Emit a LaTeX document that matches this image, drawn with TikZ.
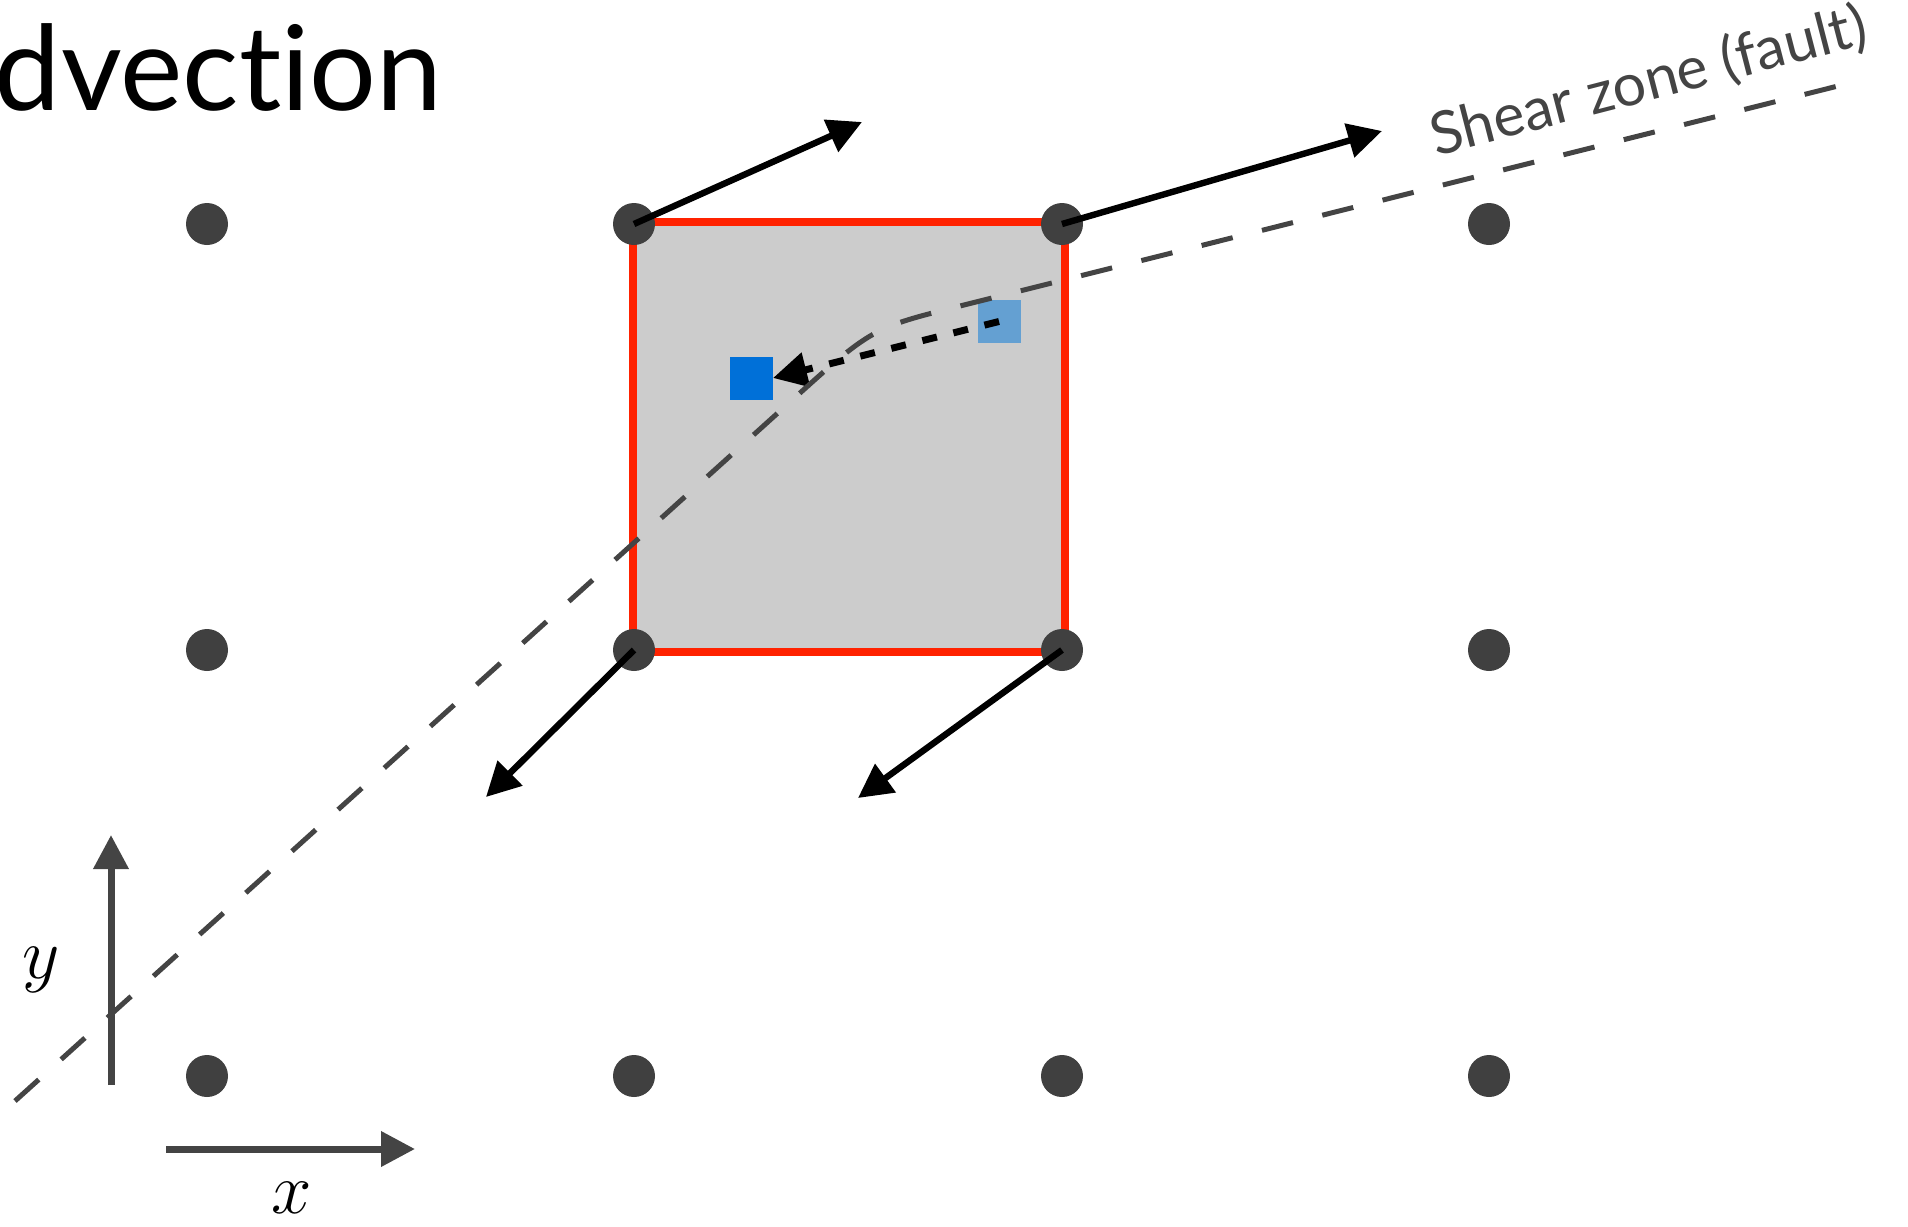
\documentclass[tikz,border=0pt]{standalone}
\usepackage{graphicx}
\usepackage{fontspec}
\setmainfont[Ligatures={NoCommon}]{Lato}
\usetikzlibrary{arrows.meta}
\definecolor{dotc}{HTML}{404040}
\definecolor{axc}{HTML}{444444}
\definecolor{redc}{HTML}{FF2200}
\definecolor{fillc}{HTML}{CCCCCC}
\definecolor{blued}{HTML}{0070D8}
\definecolor{bluel}{HTML}{64A0D2}
\begin{document}
\begin{tikzpicture}[x=0.5pt,y=-0.5pt,
  gdot/.style={circle,fill=dotc,minimum size=21pt,inner sep=0pt,outer sep=0pt},
  vel/.style={line width=3.2pt,black,-{Triangle[length=17pt,width=17pt]}},
  axis/.style={line width=3.5pt,axc,-{Triangle[length=17pt,width=17pt]}},
  shearline/.style={line width=2.5pt,axc,dash pattern=on 16pt off 15.08pt},
  cellbox/.style={draw=redc,fill=fillc,line width=4pt,inner sep=0pt,outer sep=0pt,minimum width=216pt,minimum height=215pt},
  marker/.style={inner sep=0pt,outer sep=0pt,minimum size=21.5pt},
  lbl/.style={inner sep=0pt,outer sep=0pt}]
\useasboundingbox (0,0) rectangle (1908,1227);

% title
\node[lbl,anchor=base west] (title) at (-5,110) {\fontsize{59pt}{63pt}\selectfont dvection};

% cell
\node[cellbox] (cell) at (849,437) {};

% markers
\node[marker,fill=blued] (db) at (751.5,378) {};
\node[marker,fill=bluel] (lb) at (999,321.5) {};
\draw[line width=3.5pt,black,dash pattern=on 7.5pt off 8.5pt,-{Triangle[length=17pt,width=17pt]}] (lb.center) -- (db.east);

% shear zone
\coordinate (s0) at (15,1101);
\coordinate (s1) at (790,402);
\coordinate (sc) at (872,328);
\coordinate (s2) at (960,306);
\coordinate (s3) at (1838,86);
\draw[shearline] (s0) -- (s1) .. controls (sc) .. (s2) -- (s3);
\node[lbl,anchor=base west,rotate=14.5,text=axc] (shear) at (1436,156) {\fontsize{29.5pt}{32pt}\selectfont Shear zone (fault)};

% grid dots
\foreach \c/\x in {1/207,2/634,3/1062,4/1489}{
  \foreach \r/\y in {1/224,2/650,3/1076}{
    \node[gdot] (d\r\c) at (\x,\y) {};
  }
}

% velocity arrows
\coordinate (t12) at (862,122);
\coordinate (t13) at (1382,131);
\coordinate (t22) at (486,797);
\coordinate (t23) at (858,798);
\draw[vel] (d12.center) -- (t12);
\draw[vel] (d13.center) -- (t13);
\draw[vel] (d22.center) -- (t22);
\draw[vel] (d23.center) -- (t23);

% axes
\coordinate (yo) at (111,1085);
\coordinate (ye) at (111,835);
\coordinate (xo) at (166,1149);
\coordinate (xe) at (415,1149);
\draw[axis] (yo) -- (ye);
\draw[axis] (xo) -- (xe);
\node[lbl] (ylab) at (41,970) {\scalebox{1.75}{\fontsize{20.74pt}{24pt}\selectfont $y$}};
\node[lbl] (xlab) at (292,1198) {\scalebox{1.75}{\fontsize{20.74pt}{24pt}\selectfont $x$}};
\end{tikzpicture}
\end{document}
